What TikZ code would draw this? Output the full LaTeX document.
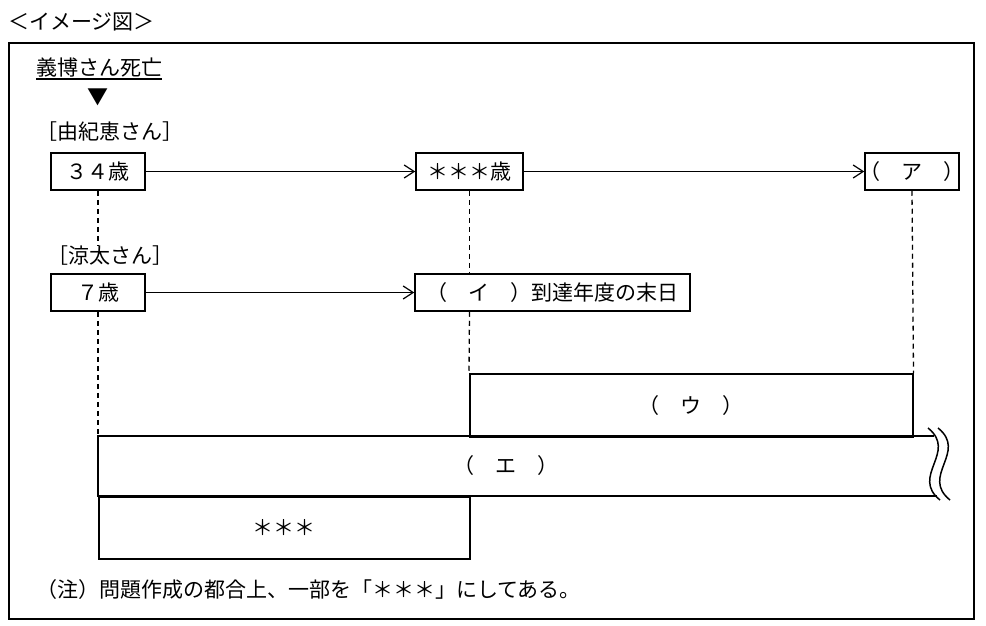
\documentclass[tikz,border=0pt]{standalone}
\usepackage{fontspec}
\setmainfont{Noto Sans CJK JP}
\usetikzlibrary{arrows.meta}

\begin{document}
\begin{tikzpicture}[x=1pt,y=-1pt]
\tikzset{every node/.style={font=\fontsize{21}{25}\selectfont,inner sep=0pt}}
\tikzset{agebox/.style={draw,line width=1.5pt,minimum height=37pt}}
\tikzset{period/.style={draw,line width=1.5pt,anchor=north west}}
\tikzset{flow/.style={line width=1.2pt,-{Straight Barb[length=10pt,width=13pt]}}}
\tikzset{guide/.style={line width=1.3pt,dash pattern=on 5pt off 4pt}}
\tikzset{band/.style={line width=1.5pt}}

\useasboundingbox (0,0) rectangle (986,626);
\draw[line width=1.5pt] (9,43) rectangle (974,619);

\node[anchor=west] (title) at (8,22) {＜イメージ図＞};
\node[anchor=west] (death) at (36,67) {義博さん死亡};
\draw[line width=2.4pt] ([yshift=-2pt]death.south west) -- ([yshift=-2pt]death.south east);
\node (mark) at (98,97) {▼};

\node[anchor=west] (yukie) at (36,132) {［由紀恵さん］};
\node[agebox,minimum width=94pt] (age34) at (98,171.5) {３４歳};
\node[agebox,minimum width=107pt] (agestar) at (469.5,171.5) {＊＊＊歳};
\node[agebox,minimum width=94pt] (agea) at (912,171.5) {\makebox[80pt]{（　ア　）}};

\node[anchor=west] (ryota) at (47,256) {［涼太さん］};
\node[agebox,minimum width=94pt] (age7) at (98,292.5) {７歳};
\node[agebox,minimum width=275pt] (agei) at (552.5,292.5) {（　イ　）到達年度の末日};

\draw[flow] (age34) -- (agestar);
\draw[flow] (agestar) -- (agea);
\draw[flow] (age7) -- (agei);

\node[period,minimum width=443pt,minimum height=63pt] (ubox) at (469,373) {（　ウ　）};
\node[period,minimum width=371pt,minimum height=62pt] (starbox) at (98,496) {＊＊＊};
\node (eband) at (506,466) {（　エ　）};
\draw[band] (934,436) -- (98,436) -- (98,496) -- (937,496);
\draw[band] (928,428) .. controls (958,452) and (910,476) .. (940,500);
\draw[band] (938,428) .. controls (968,452) and (920,476) .. (950,500);

\draw[guide] (age34.south) -- (age34.south |- ryota.north);
\draw[guide] (age7.south) -- (age7.south |- ubox.south);
\draw[guide] (agestar.south) -- (agestar.south |- agei.north);
\draw[guide] (agestar.south |- agei.south) -- (ubox.north west);
\draw[guide] (agea.south) -- (ubox.north east);

\node[anchor=west] (note) at (36,590) {（注）問題作成の都合上、一部を「＊＊＊」にしてある。};
\end{tikzpicture}
\end{document}
